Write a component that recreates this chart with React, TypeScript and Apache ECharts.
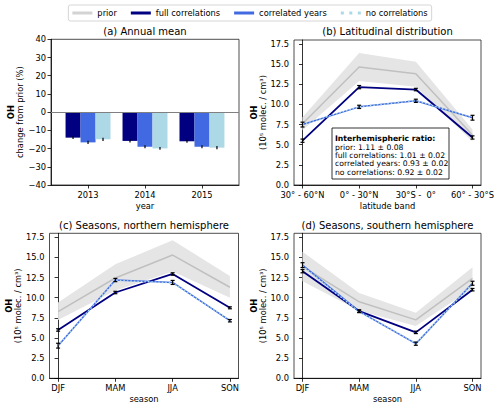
import React, { useEffect, useRef } from 'react';
import * as echarts from 'echarts';

// ---------- data ----------
const legendNames = ['prior', 'full correlations', 'correlated years', 'no correlations'];

// (a) Annual mean, change from prior (%)
const years = [2013, 2014, 2015];
const annualFull = [-14.0, -15.8, -16.0];
const annualCorrYears = [-16.6, -19.0, -19.0];
const annualNoCorr = [-14.9, -19.9, -19.5];
const annualFullErr = [0.8, 0.8, 0.8];
const annualCorrYearsErr = [0.9, 0.8, 0.8];
const annualNoCorrErr = [0.9, 0.8, 0.9];
const annualTicks = [-40, -30, -20, -10, 0, 10, 20, 30, 40];

// (b) Latitudinal distribution
const latBands = ['30° - 60°N', '0° - 30°N', '30°S -  0°', '60° - 30°S'];
const latPrior = [7.6, 14.65, 13.8, 6.2];
const latPriorHigh = [8.4, 16.4, 15.3, 6.9];
const latPriorLow = [6.8, 12.9, 12.2, 5.4];
const latFull = [5.5, 12.15, 11.85, 5.9];
const latFullErr = [0.2, 0.2, 0.15, 0.2];
const latCorrYears = [7.5, 9.7, 10.45, 8.35];
const latCorrYearsErr = [0.3, 0.2, 0.2, 0.3];
const latNoCorr = [7.55, 9.68, 10.5, 8.3];

const ratioLines = [
  'prior: 1.11 ± 0.08',
  'full correlations: 1.01 ± 0.02',
  'correlated years: 0.93 ± 0.02',
  'no correlations: 0.92 ± 0.02',
];

// (c) Seasons, northern hemisphere
const seasons = ['DJF', 'MAM', 'JJA', 'SON'];
const nhPrior = [8.27, 12.45, 15.3, 11.3];
const nhPriorHigh = [9.4, 14.15, 17.15, 12.7];
const nhPriorLow = [7.25, 10.9, 13.25, 10.0];
const nhFull = [6.0, 10.65, 12.95, 8.75];
const nhFullErr = [0.15, 0.15, 0.15, 0.12];
const nhCorrYears = [4.05, 12.2, 11.9, 7.15];
const nhCorrYearsErr = [0.3, 0.2, 0.25, 0.15];
const nhNoCorr = [4.1, 12.15, 11.85, 7.2];

// (d) Seasons, southern hemisphere
const shPrior = [13.9, 9.5, 7.25, 12.4];
const shPriorHigh = [15.7, 10.6, 8.15, 13.8];
const shPriorLow = [12.05, 8.4, 6.5, 11.15];
const shFull = [13.3, 8.35, 5.7, 11.0];
const shFullErr = [0.2, 0.15, 0.15, 0.15];
const shCorrYears = [14.05, 8.3, 4.3, 11.8];
const shCorrYearsErr = [0.3, 0.15, 0.2, 0.25];
const shNoCorr = [13.95, 8.25, 4.35, 11.75];

const ohTicks = [0, 2.5, 5, 7.5, 10, 12.5, 15, 17.5];
const catIdx = [0, 1, 2, 3];

// ---------- styles ----------
const FONT = 'DejaVu Sans';
const FS = 8.3;
const C_PRIOR = '#c0c0c0';
const C_BAND = '#e5e5e5';
const C_FULL = '#000080';
const C_CORR = '#4169e1';
const C_NOCORR = '#add8e6';
const BAR_W = 0.263;

const gridRects = [
  { left: 51, top: 39.3, width: 188, height: 145.7 },
  { left: 294, top: 40, width: 187, height: 145 },
  { left: 49.5, top: 233.3, width: 189, height: 145 },
  { left: 294, top: 233.3, width: 187, height: 145 },
];

const titles = [
  { text: '(a) Annual mean', x: 145, y: 31 },
  { text: '(b) Latitudinal distribution', x: 387.5, y: 31 },
  { text: '(c) Seasons, northern hemisphere', x: 144, y: 225 },
  { text: '(d) Seasons, southern hemisphere', x: 387.5, y: 225 },
];

const txt = { fontFamily: FONT, fontSize: FS, color: '#000' };

function errorBarRender(params: any, api: any) {
  const x = api.value(0), y = api.value(1), e = api.value(2);
  const p1 = api.coord([x, y + e]);
  const p2 = api.coord([x, y - e]);
  const cap = 2;
  const st = { stroke: '#000', lineWidth: 1.2 };
  return {
    type: 'group',
    children: [
      { type: 'line', shape: { x1: p1[0], y1: p1[1], x2: p2[0], y2: p2[1] }, style: st },
      { type: 'line', shape: { x1: p1[0] - cap, y1: p1[1], x2: p1[0] + cap, y2: p1[1] }, style: st },
      { type: 'line', shape: { x1: p2[0] - cap, y1: p2[1], x2: p2[0] + cap, y2: p2[1] }, style: st },
    ],
  };
}

function barRender(slot: number, color: string) {
  return (params: any, api: any) => {
    const x = api.value(0) + (slot - 1) * BAR_W;
    const v = api.value(1), e = api.value(2);
    const a = api.coord([x - BAR_W / 2, 0]);
    const b = api.coord([x + BAR_W / 2, v]);
    const t = api.coord([x, v + e]);
    const u = api.coord([x, v - e]);
    const st = { stroke: '#000', lineWidth: 1.2 };
    return {
      type: 'group',
      children: [
        { type: 'rect', shape: { x: a[0], y: Math.min(a[1], b[1]), width: b[0] - a[0], height: Math.abs(b[1] - a[1]) }, style: { fill: color } },
        { type: 'line', shape: { x1: t[0], y1: t[1], x2: u[0], y2: u[1] }, style: st },
      ],
    };
  };
}

function bandRender(high: number[], low: number[]) {
  return (params: any, api: any) => {
    if (params.dataIndex !== 0) return null;
    const up = high.map((v, i) => api.coord([catIdx[i], v]));
    const dn = low.map((v, i) => api.coord([catIdx[i], v])).reverse();
    return { type: 'polygon', shape: { points: up.concat(dn) }, style: { fill: C_BAND } };
  };
}

function linePanelSeries(g: number, prior: number[], hi: number[], lo: number[], full: number[], fullErr: number[], corr: number[], corrErr: number[], nocorr: number[]) {
  const pairs = (arr: number[]) => arr.map((v, i) => [catIdx[i], v]);
  const common = { xAxisIndex: g, yAxisIndex: g, silent: true, animation: false };
  return [
    { ...common, type: 'custom', name: 'band' + g, z: 1, data: hi.map((v, i) => [catIdx[i], v, lo[i]]), renderItem: bandRender(hi, lo) },
    { ...common, type: 'line', name: 'prior', z: 2, symbol: 'none', data: pairs(prior), lineStyle: { color: C_PRIOR, width: 1.5 }, itemStyle: { color: C_PRIOR } },
    { ...common, type: 'line', name: 'full correlations', z: 3, symbol: 'none', data: pairs(full), lineStyle: { color: C_FULL, width: 1.8 }, itemStyle: { color: C_FULL } },
    { ...common, type: 'line', name: 'correlated years', z: 4, symbol: 'none', data: pairs(corr), lineStyle: { color: C_CORR, width: 1.5 }, itemStyle: { color: C_CORR } },
    { ...common, type: 'line', name: 'no correlations', z: 5, symbol: 'none', data: pairs(nocorr), lineStyle: { color: C_NOCORR, width: 1.5, type: [1.5, 2] }, itemStyle: { color: C_NOCORR } },
    { ...common, type: 'custom', name: 'errFull' + g, z: 6, data: full.map((v, i) => [catIdx[i], v, fullErr[i]]), renderItem: errorBarRender },
    { ...common, type: 'custom', name: 'errCorr' + g, z: 6, data: corr.map((v, i) => [catIdx[i], v, corrErr[i]]), renderItem: errorBarRender },
  ];
}

const tickStyle = { show: true, inside: false, length: 3.5, lineStyle: { color: '#000', width: 0.8 } };

function ohYAxis(g: number) {
  return {
    gridIndex: g, type: 'value', min: 0, max: 18,
    axisLine: { show: true, lineStyle: { color: '#000', width: 0.8 } },
    axisTick: { ...tickStyle, customValues: ohTicks },
    axisLabel: { ...txt, margin: 5, customValues: ohTicks, formatter: (v: number) => v.toFixed(1) },
    splitLine: { show: false },
    name: '{b|OH}\n{n|(10⁵ molec. / cm³)}',
    nameLocation: 'middle', nameRotate: 90, nameGap: 27,
    nameTextStyle: { ...txt, rich: { b: { ...txt, fontWeight: 'bold', lineHeight: 9 }, n: { ...txt, lineHeight: 9 } } },
  };
}

function catXAxis(g: number, labels: string[], name: string) {
  return {
    gridIndex: g, type: 'value', min: -0.15, max: 3.15,
    axisLine: { show: true, onZero: false, lineStyle: { color: '#000', width: 0.8 } },
    axisTick: { ...tickStyle, customValues: catIdx },
    axisLabel: { ...txt, margin: 6, customValues: catIdx, formatter: (v: number) => labels[Math.round(v)] ?? '' },
    splitLine: { show: false },
    name, nameLocation: 'middle', nameGap: 17, nameTextStyle: { ...txt },
  };
}

function buildOption(): any {
  const grid = gridRects.map((r) => ({ ...r, show: true, borderColor: '#222', borderWidth: 0.8, backgroundColor: 'transparent', containLabel: false, outerBoundsMode: 'none' }));

  const xAxis = [
    {
      gridIndex: 0, type: 'value', min: 2012.35, max: 2015.65,
      axisLine: { show: true, onZero: false, lineStyle: { color: '#000', width: 0.8 } },
      axisTick: { ...tickStyle, customValues: years },
      axisLabel: { ...txt, margin: 6, customValues: years, formatter: (v: number) => String(Math.round(v)) },
      splitLine: { show: false },
      name: 'year', nameLocation: 'middle', nameGap: 17, nameTextStyle: { ...txt },
    },
    catXAxis(1, latBands, 'latitude band'),
    catXAxis(2, seasons, 'season'),
    catXAxis(3, seasons, 'season'),
  ];

  const yAxis = [
    {
      gridIndex: 0, type: 'value', min: -40, max: 40, interval: 10,
      axisLine: { show: true, onZero: false, lineStyle: { color: '#000', width: 0.8 } },
      axisTick: { ...tickStyle, customValues: annualTicks },
      axisLabel: { ...txt, margin: 5, customValues: annualTicks, formatter: (v: number) => (v < 0 ? '\u2212' + Math.abs(v) : String(v)) },
      splitLine: { show: false },
      name: '{b|OH}\n{n|change from prior (%)}',
      nameLocation: 'middle', nameRotate: 90, nameGap: 27,
      nameTextStyle: { ...txt, rich: { b: { ...txt, fontWeight: 'bold', lineHeight: 9 }, n: { ...txt, lineHeight: 9 } } },
    },
    ohYAxis(1),
    ohYAxis(2),
    ohYAxis(3),
  ];

  const series: any[] = [
    {
      type: 'line', name: 'zero', xAxisIndex: 0, yAxisIndex: 0, data: [], silent: true,
      markLine: { symbol: 'none', silent: true, label: { show: false }, lineStyle: { color: '#808080', width: 1, type: 'solid' }, data: [{ yAxis: 0 }] },
    },
    { type: 'custom', name: 'barsFull', xAxisIndex: 0, yAxisIndex: 0, z: 3, silent: true, data: years.map((y, i) => [y, annualFull[i], annualFullErr[i]]), renderItem: barRender(0, C_FULL) },
    { type: 'custom', name: 'barsCorr', xAxisIndex: 0, yAxisIndex: 0, z: 3, silent: true, data: years.map((y, i) => [y, annualCorrYears[i], annualCorrYearsErr[i]]), renderItem: barRender(1, C_CORR) },
    { type: 'custom', name: 'barsNoCorr', xAxisIndex: 0, yAxisIndex: 0, z: 3, silent: true, data: years.map((y, i) => [y, annualNoCorr[i], annualNoCorrErr[i]]), renderItem: barRender(2, C_NOCORR) },
    ...linePanelSeries(1, latPrior, latPriorHigh, latPriorLow, latFull, latFullErr, latCorrYears, latCorrYearsErr, latNoCorr),
    ...linePanelSeries(2, nhPrior, nhPriorHigh, nhPriorLow, nhFull, nhFullErr, nhCorrYears, nhCorrYearsErr, nhNoCorr),
    ...linePanelSeries(3, shPrior, shPriorHigh, shPriorLow, shFull, shFullErr, shCorrYears, shCorrYearsErr, shNoCorr),
  ];

  const legendColors = ['#d3d3d3', C_FULL, C_CORR, C_NOCORR];
  const legendIcons = ['rect', 'rect', 'rect', 'path://M0,0h3v3h-3z M8.5,0h3v3h-3z M17,0h3v3h-3z'];

  const graphic: any[] = titles.map((t) => ({
    type: 'text', x: t.x, y: t.y, z: 10, silent: true,
    style: { text: t.text, fontFamily: FONT, fontSize: 10, fill: '#000', align: 'center', verticalAlign: 'middle' },
  }));
  graphic.push({
    type: 'group', x: 332, y: 128, z: 20, silent: true,
    children: [
      { type: 'rect', shape: { x: 0, y: 0, width: 117, height: 51 }, style: { fill: '#fff', stroke: '#000', lineWidth: 0.8 } },
      { type: 'text', x: 3, y: 10, style: { text: 'Interhemispheric ratio:', fontFamily: FONT, fontSize: 7.7, fontWeight: 'bold', fill: '#000', verticalAlign: 'middle' } },
      ...ratioLines.map((l, i) => ({ type: 'text', x: 3, y: 19 + i * 8.4, style: { text: l, fontFamily: FONT, fontSize: 7.7, fill: '#000', verticalAlign: 'middle' } })),
    ],
  });

  return {
    animation: false,
    backgroundColor: '#fff',
    textStyle: { fontFamily: FONT },
    grid,
    xAxis,
    yAxis,
    series,
    graphic,
    legend: {
      show: true, left: 'center', top: 5, orient: 'horizontal',
      itemWidth: 20, itemHeight: 3, itemGap: 14,
      padding: [4, 4], borderColor: '#cccccc', borderWidth: 0.8, borderRadius: 2,
      backgroundColor: '#fff', selectedMode: false,
      textStyle: { ...txt },
      data: legendNames.map((n, i) => ({ name: n, icon: legendIcons[i], itemStyle: { color: legendColors[i] } })),
    },
  };
}

export default function App() {
  const ref = useRef<HTMLDivElement>(null);
  useEffect(() => {
    if (!ref.current) return;
    const chart = echarts.init(ref.current, null, { renderer: 'svg' });
    chart.setOption(buildOption());
    return () => chart.dispose();
  }, []);
  return <div ref={ref} style={{ position: 'fixed', left: 0, top: 0, width: 500, height: 408 }} />;
}
